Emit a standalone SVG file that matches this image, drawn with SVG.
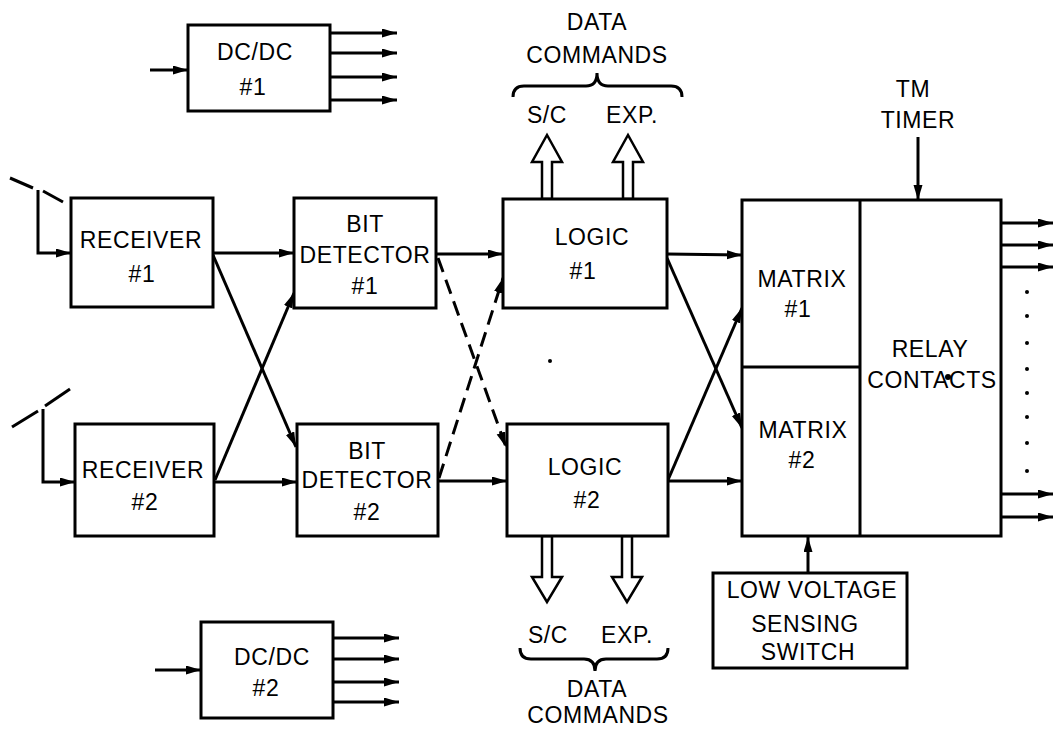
<svg xmlns="http://www.w3.org/2000/svg" width="1055" height="732" viewBox="0 0 1055 732">
<defs>
<marker id="ah" markerUnits="userSpaceOnUse" markerWidth="16" markerHeight="10" refX="15" refY="4.5" orient="auto">
<path d="M0,0 L15,4.5 L0,9 z" fill="#000"/>
</marker>
<style>
.box{fill:#fff;stroke:#000;stroke-width:3}
.t{font-family:"Liberation Sans",Arial,sans-serif;font-size:23px;fill:#000;text-anchor:middle;letter-spacing:0.6px}
.c{stroke:#000;stroke-width:3;fill:none}
.a{stroke:#000;stroke-width:3;fill:none;marker-end:url(#ah)}
.d{stroke:#000;stroke-width:3;fill:none;stroke-dasharray:15,8;marker-end:url(#ah)}
.h{fill:#fff;stroke:#000;stroke-width:2.5;stroke-linejoin:miter}
</style>
</defs>
<rect width="1055" height="732" fill="#fff"/>

<g id="connectors">
<line class="a" x1="150" y1="70" x2="188" y2="70"/>
<line class="a" x1="330" y1="33" x2="397" y2="33"/>
<line class="a" x1="330" y1="53" x2="397" y2="53"/>
<line class="a" x1="330" y1="77" x2="397" y2="77"/>
<line class="a" x1="330" y1="100" x2="397" y2="100"/>
<line class="a" x1="155" y1="670" x2="201" y2="670"/>
<line class="a" x1="333" y1="638" x2="399" y2="638"/>
<line class="a" x1="333" y1="659" x2="399" y2="659"/>
<line class="a" x1="333" y1="682" x2="399" y2="682"/>
<line class="a" x1="333" y1="702" x2="399" y2="702"/>
<line class="c" x1="10" y1="178" x2="33" y2="188"/>
<line class="c" x1="43" y1="191" x2="63" y2="202"/>
<polyline class="a" points="38,190 38,253 71,253"/>
<line class="c" x1="12" y1="427" x2="38" y2="411"/>
<line class="c" x1="45" y1="406" x2="70" y2="389"/>
<polyline class="a" points="43,409 43,482 75,482"/>
<line class="a" x1="213" y1="253" x2="294" y2="253"/>
<line class="a" x1="213" y1="255" x2="296" y2="447"/>
<line class="a" x1="214" y1="482" x2="297" y2="482"/>
<line class="a" x1="215" y1="480" x2="294" y2="293"/>
<line class="a" x1="436" y1="254" x2="503" y2="254"/>
<line class="a" x1="438" y1="481" x2="507" y2="481"/>
<line class="d" x1="438" y1="258" x2="506" y2="447"/>
<line class="d" x1="439" y1="478" x2="503" y2="278"/>
<line class="a" x1="667" y1="254" x2="742" y2="255"/>
<line class="a" x1="667" y1="258" x2="742" y2="428"/>
<line class="a" x1="668" y1="480" x2="742" y2="308"/>
<line class="a" x1="668" y1="481" x2="742" y2="481"/>
<line class="a" x1="918" y1="137" x2="918" y2="200"/>
<line class="a" x1="808" y1="573" x2="808" y2="537"/>
<line class="a" x1="1001" y1="223" x2="1053" y2="223"/>
<line class="a" x1="1001" y1="245" x2="1053" y2="245"/>
<line class="a" x1="1001" y1="267" x2="1053" y2="267"/>
<line class="a" x1="1001" y1="494" x2="1053" y2="494"/>
<line class="a" x1="1001" y1="517" x2="1053" y2="517"/>
<polygon class="h" points="542,199 542,162 532,162 547,135 562,162 552,162 552,199"/>
<polygon class="h" points="623,199 623,162 613,162 628,135 643,162 633,162 633,199"/>
<polygon class="h" points="542,536 542,577 532,577 547,602 562,577 552,577 552,536"/>
<polygon class="h" points="622,536 622,577 612,577 627,602 642,577 632,577 632,536"/>
<path class="c" stroke-width="2.5" d="M513,97 Q513,86 524,86 L586,86 Q597,86 597,73 Q597,86 608,86 L671,86 Q682,86 682,97"/>
<path class="c" stroke-width="2.5" d="M520,648 Q520,659 531,659 L584,659 Q595,659 595,671 Q595,659 606,659 L657,659 Q668,659 668,648"/>
</g>

<g id="dots" fill="#000">
<circle cx="550" cy="361" r="2"/>
<circle cx="1027" cy="292" r="2"/>
<circle cx="1027" cy="316" r="2"/>
<circle cx="1027" cy="343" r="2"/>
<circle cx="1027" cy="369" r="2"/>
<circle cx="1027" cy="393" r="2"/>
<circle cx="1027" cy="417" r="2"/>
<circle cx="1027" cy="443" r="2"/>
<circle cx="1027" cy="471" r="2"/>
</g>

<g id="dcdc1">
<rect class="box" x="188" y="25" width="142" height="86"/>
<text class="t" x="255" y="60">DC/DC</text>
<text class="t" x="253" y="95">#1</text>
</g>
<g id="dcdc2">
<rect class="box" x="201" y="622" width="132" height="96"/>
<text class="t" x="272" y="665">DC/DC</text>
<text class="t" x="266" y="696">#2</text>
</g>
<g id="receiver1">
<rect class="box" x="71" y="198" width="142" height="109"/>
<text class="t" x="141" y="248">RECEIVER</text>
<text class="t" x="142" y="282">#1</text>
</g>
<g id="receiver2">
<rect class="box" x="75" y="424" width="139" height="112"/>
<text class="t" x="143" y="478">RECEIVER</text>
<text class="t" x="145" y="510">#2</text>
</g>
<g id="bitdet1">
<rect class="box" x="294" y="198" width="142" height="110"/>
<text class="t" x="365" y="232">BIT</text>
<text class="t" x="365" y="263">DETECTOR</text>
<text class="t" x="365" y="294">#1</text>
</g>
<g id="bitdet2">
<rect class="box" x="297" y="424" width="141" height="112"/>
<text class="t" x="367" y="459">BIT</text>
<text class="t" x="367" y="488">DETECTOR</text>
<text class="t" x="367" y="520">#2</text>
</g>
<g id="logic1">
<rect class="box" x="503" y="199" width="164" height="109"/>
<text class="t" x="592" y="245">LOGIC</text>
<text class="t" x="583" y="279">#1</text>
</g>
<g id="logic2">
<rect class="box" x="507" y="424" width="161" height="112"/>
<text class="t" x="585" y="475">LOGIC</text>
<text class="t" x="587" y="508">#2</text>
</g>
<g id="datacmd-top">
<text class="t" x="597" y="30">DATA</text>
<text class="t" x="597" y="63">COMMANDS</text>
<text class="t" x="547" y="123">S/C</text>
<text class="t" x="632" y="123">EXP.</text>
</g>
<g id="datacmd-bottom">
<text class="t" x="548" y="643">S/C</text>
<text class="t" x="627" y="643">EXP.</text>
<text class="t" x="597" y="697">DATA</text>
<text class="t" x="598" y="723">COMMANDS</text>
</g>
<g id="matrix-relay">
<rect class="box" x="742" y="200" width="259" height="336"/>
<line class="c" x1="860" y1="200" x2="860" y2="536"/>
<line class="c" x1="742" y1="367" x2="860" y2="367"/>
<text class="t" x="802" y="287">MATRIX</text>
<text class="t" x="798" y="317">#1</text>
<text class="t" x="803" y="438">MATRIX</text>
<text class="t" x="802" y="468">#2</text>
<text class="t" x="930" y="357">RELAY</text>
<text class="t" x="932" y="388">CONTACTS</text>
<circle cx="948" cy="377" r="3" fill="#000"/>
</g>
<g id="tmtimer">
<text class="t" x="913" y="97">TM</text>
<text class="t" x="918" y="128">TIMER</text>
</g>
<g id="lowvoltage">
<rect class="box" x="713" y="573" width="194" height="95"/>
<text class="t" x="812" y="598">LOW VOLTAGE</text>
<text class="t" x="805" y="632">SENSING</text>
<text class="t" x="808" y="660">SWITCH</text>
</g>
</svg>
